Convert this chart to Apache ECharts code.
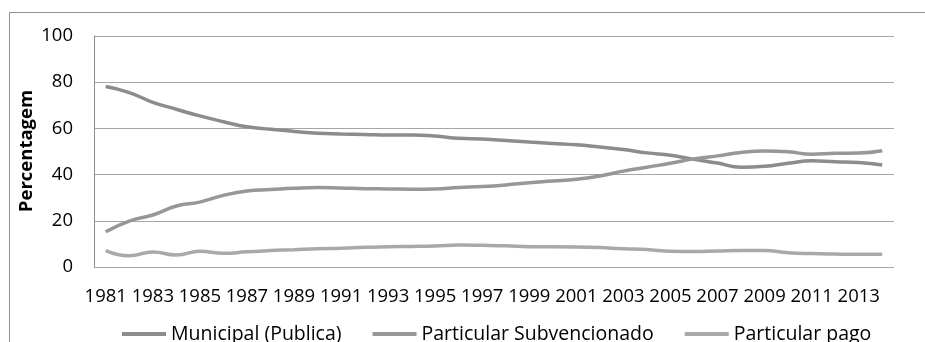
<!DOCTYPE html>
<html>
<head>
<meta charset="utf-8">
<script src="https://cdn.jsdelivr.net/npm/echarts@6/dist/echarts.min.js"></script>
<style>
html,body{margin:0;padding:0;background:#fff;}
#chart{width:925px;height:342px;}
</style>
</head>
<body>
<div id="chart"></div>
<script>
const years = ['1981','1982','1983','1984','1985','1986','1987','1988','1989','1990','1991','1992','1993','1994','1995','1996','1997','1998','1999','2000','2001','2002','2003','2004','2005','2006','2007','2008','2009','2010','2011','2012','2013','2014'];
const municipal = [78.1,75.5,71.3,68.3,65.4,62.9,60.7,59.6,58.7,57.9,57.6,57.4,57.1,57.1,56.7,55.7,55.4,54.8,54.1,53.5,52.9,51.9,50.9,49.4,48.4,46.6,45.0,43.2,43.6,44.9,46.0,45.6,45.2,44.2];
const subvencionado = [15.3,19.9,22.5,26.4,28.1,31.0,32.9,33.5,34.1,34.4,34.2,33.9,33.8,33.7,33.8,34.4,34.8,35.5,36.5,37.2,38.0,39.4,41.5,43.2,44.9,46.8,48.1,49.6,50.2,49.9,48.8,49.2,49.3,50.3];
const pago = [7.1,4.9,6.5,5.2,6.8,5.9,6.6,7.1,7.5,7.9,8.1,8.5,8.8,8.9,9.1,9.5,9.4,9.2,8.8,8.8,8.7,8.4,7.9,7.6,6.8,6.7,6.9,7.1,7.1,6.2,5.8,5.6,5.5,5.5];
const seriesNames = ['Municipal (Publica)','Particular Subvencionado','Particular pago'];
const yTicks = [0,20,40,60,80,100];
const yTitle = 'Percentagem';

const font = '"Open Sans", sans-serif';
const colors = ['#8c8c8c','#979797','#a9a9a9'];
const chart = echarts.init(document.getElementById('chart'), null, {renderer:'canvas'});
chart.setOption({
  animation:false,
  backgroundColor:'#fff',
  color: colors,
  graphic:[
    {type:'rect', shape:{x:9.5,y:12.5,width:2000,height:2000}, style:{fill:'none', stroke:'#8f8f8f', lineWidth:1}, silent:true},
    {type:'text', x:27, y:151, rotation:Math.PI/2, silent:true,
     style:{text:yTitle, font:'bold 18.5px "Open Sans", sans-serif', fill:'#000', align:'center', verticalAlign:'middle'}}
  ],
  grid:{left:94, right:31, top:36, bottom:75},
  legend:{
    left:122, top:323, padding:0, itemWidth:44, itemHeight:4, itemGap:31, icon:'rect',
    textStyle:{fontFamily:font, fontSize:19.5, color:'#000', lineHeight:22, padding:[0,0,0,0]},
    data: seriesNames
  },
  xAxis:{
    type:'category', data: years, boundaryGap:true,
    axisLine:{show:false}, axisTick:{show:false},
    axisLabel:{interval:1, fontFamily:font, fontSize:18.5, color:'#000', margin:20}
  },
  yAxis:{
    type:'value', min:yTicks[0], max:yTicks[yTicks.length-1], interval:20,
    axisLine:{show:true, lineStyle:{color:'#8c8c8c', width:1}},
    axisTick:{show:false},
    splitLine:{show:true, lineStyle:{color:'#a6a6a6', width:1}},
    axisLabel:{fontFamily:font, fontSize:18.5, color:'#000', margin:21}
  },
  series:[
    {name:seriesNames[0], type:'line', data:municipal, smooth:true, showSymbol:false, symbol:'none', lineStyle:{width:3.5, color:colors[0]}},
    {name:seriesNames[1], type:'line', data:subvencionado, smooth:true, showSymbol:false, symbol:'none', lineStyle:{width:3.5, color:colors[1]}},
    {name:seriesNames[2], type:'line', data:pago, smooth:true, showSymbol:false, symbol:'none', lineStyle:{width:3.5, color:colors[2]}}
  ]
});
</script>
</body>
</html>
